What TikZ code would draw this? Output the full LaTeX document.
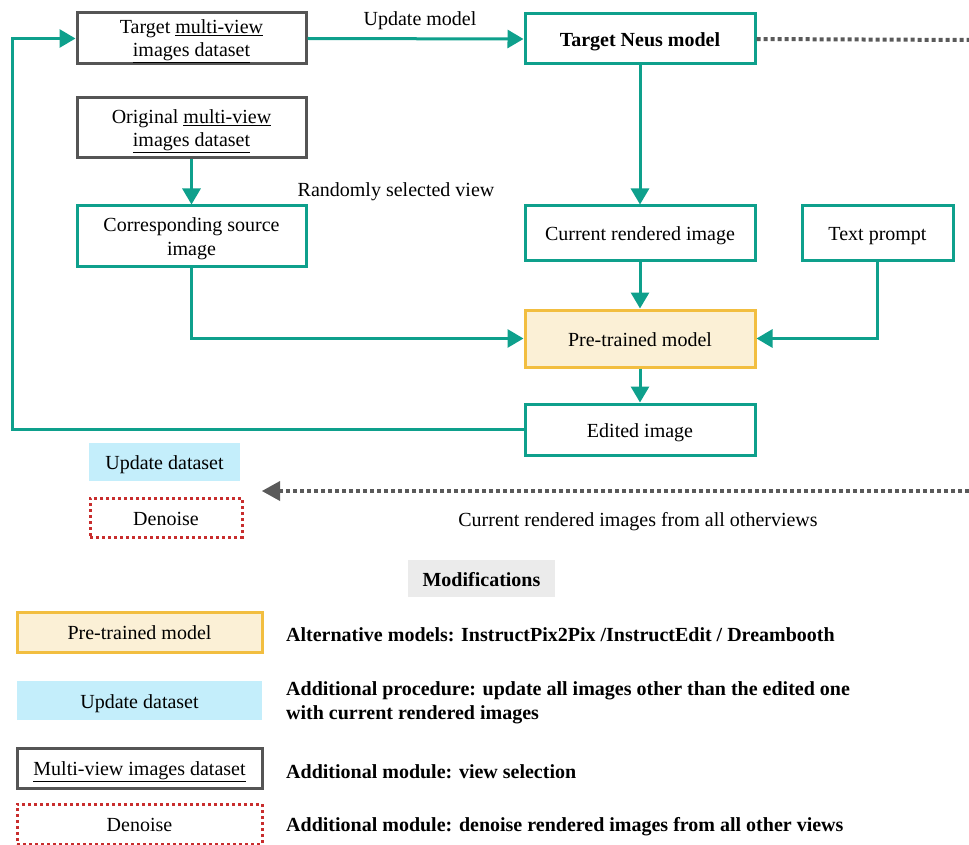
\documentclass[tikz,border=0pt]{standalone}
\usepackage{fontspec}
\setmainfont{Liberation Serif}
\usetikzlibrary{arrows.meta}
\definecolor{teal1}{RGB}{14,160,140}
\definecolor{frame}{RGB}{85,85,85}
\definecolor{dotgray}{RGB}{90,90,90}
\definecolor{creamfill}{RGB}{251,240,214}
\definecolor{goldline}{RGB}{242,190,64}
\definecolor{cyanfill}{RGB}{196,238,251}
\definecolor{redline}{RGB}{200,45,45}
\definecolor{lightgray}{RGB}{235,235,235}
\newcommand{\topstrut}{\rule{0pt}{20pt}}
\tikzset{
  every node/.style={font=\fontsize{20}{24}\selectfont, inner sep=0pt, align=center},
  lowered/.style={text height=20pt, text depth=4.5pt},
  box/.style={draw, line width=3pt, rectangle},
  tealbox/.style={box, draw=teal1},
  databox/.style={box, draw=frame},
  modelbox/.style={box, draw=goldline, fill=creamfill},
  updbox/.style={rectangle, fill=cyanfill},
  denbox/.style={rectangle, draw=redline, line width=3pt, dash pattern=on 3pt off 3pt},
  flow/.style={draw=teal1, line width=3pt, -{Triangle[length=16pt,width=18pt]}},
  dotline/.style={draw=dotgray, line width=4pt, dash pattern=on 4pt off 3pt},
  legtext/.style={anchor=west, align=left, font=\fontsize{20}{24}\selectfont\bfseries},
}
\begin{document}
\begin{tikzpicture}[x=1pt, y=-1pt]
\useasboundingbox (0,0) rectangle (969,845);

% main pipeline
\node[databox, minimum width=229pt, minimum height=51pt] (tds) at (191.5,38.5)
  {\topstrut Target \underline{multi-view}\\[-1pt]\underline{images dataset}};
\node[tealbox, lowered, minimum width=230pt, minimum height=50pt, font=\fontsize{20}{24}\selectfont\bfseries] (neus) at (640,39) {Target Neus model};
\node[databox, minimum width=229pt, minimum height=60pt] (ods) at (191.5,128)
  {\topstrut Original \underline{multi-view}\\[-1pt]\underline{images dataset}};
\node[tealbox, minimum width=229pt, minimum height=60pt] (src) at (191.5,236)
  {\topstrut Corresponding source\\image};
\node[tealbox, lowered, minimum width=230pt, minimum height=54pt] (cur) at (640,233) {Current rendered image};
\node[tealbox, lowered, minimum width=151pt, minimum height=54pt] (txt) at (877.5,233) {Text prompt};
\node[modelbox, lowered, minimum width=230pt, minimum height=57pt] (pre) at (640,338.5) {Pre-trained model};
\node[tealbox, lowered, minimum width=230pt, minimum height=51pt] (edit) at (640,429.5) {Edited image};

\node[updbox, lowered, minimum width=151pt, minimum height=38pt] (upd) at (164.5,462) {Update dataset};
\node[denbox, lowered, minimum width=152pt, minimum height=39pt] (den) at (166,517.5) {Denoise};

% labels on the flow
\node (lblupd) at (420,21) {Update model};
\node (lblrand) at (396,192) {Randomly selected view};
\node (lblall) at (638,522) {Current rendered images from all otherviews};

% connectors
\draw[flow] (tds.east) -- (neus.west);
\draw[flow] (neus.south) -- (cur.north);
\draw[flow] (ods.south) -- (src.north);
\draw[flow] (src.south) |- (pre.west);
\draw[flow] (cur.south) -- (pre.north);
\draw[flow] (txt.south) |- (pre.east);
\draw[flow] (pre.south) -- (edit.north);
\coordinate (loop) at (12,38.5);
\draw[flow] (edit.west) -- (edit.west -| loop) -- (loop) -- (tds.west);

\coordinate (topend) at (969,40);
\draw[dotline] (neus.east) -- (topend);
\coordinate (botstart) at (969,491);
\coordinate (botend) at (262,491);
\draw[dotline] (botstart) -- ([xshift=14pt]botend);
\fill[dotgray] (botend) -- ++(18,-10) -- ++(0,20) -- cycle;

% modifications legend
\node[fill=lightgray, lowered, minimum width=147pt, minimum height=37pt, font=\fontsize{20}{24}\selectfont\bfseries] (modt) at (481.5,578.5) {Modifications};

\node[modelbox, lowered, minimum width=245pt, minimum height=40pt] (lg1) at (139.5,632) {Pre-trained model};
\node[updbox, lowered, minimum width=245pt, minimum height=39pt] (lg2) at (139.5,700.5) {Update dataset};
\node[databox, lowered, minimum width=245pt, minimum height=40pt] (lg3) at (139.5,768) {\underline{Multi-view images dataset}};
\node[denbox, lowered, minimum width=245pt, minimum height=40pt] (lg4) at (139.5,824) {Denoise};

\node[legtext] (lt1) at (286,635) {Alternative models: InstructPix2Pix /InstructEdit / Dreambooth};
\node[legtext] (lt2) at (286,703) {Additional procedure: update all images other than the edited one\\with current rendered images};
\node[legtext] (lt3) at (286,772) {Additional module: view selection};
\node[legtext] (lt4) at (286,827) {Additional module: denoise rendered images from all other views};
\end{tikzpicture}
\end{document}
